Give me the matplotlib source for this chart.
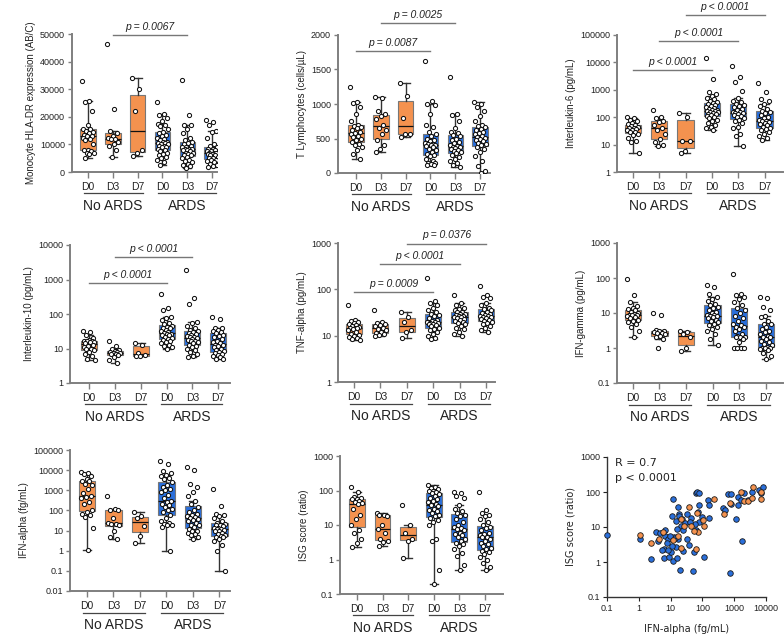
import numpy as np
import matplotlib
matplotlib.use("Agg")
import matplotlib.pyplot as plt
from matplotlib.ticker import FixedLocator, NullLocator

plt.rcParams['font.family'] = ['Liberation Sans', 'DejaVu Sans']

days = ['D0', 'D3', 'D7', 'D0', 'D3', 'D7']
groups = ['No ARDS', 'ARDS']

# --- values (one list per box: NoARDS D0, D3, D7, ARDS D0, D3, D7)
hladr = [
    [32800, 25800, 25500, 22000, 17000, 15500, 15500, 15000, 14500, 14000, 13500, 13000, 13000,
     12500, 12000, 11500, 10000, 8000, 8000, 7500, 7000, 7000, 6500, 5000],
    [46500, 23000, 15000, 14000, 13000, 12500, 12000, 12000, 11000, 10000, 9500, 8000, 5500],
    [34000, 30000, 22000, 8000, 7000, 5800],
    [25300, 21000, 20500, 19500, 18500, 17500, 17000, 16500, 15500, 14500, 14000, 13500, 13000,
     12500, 12000, 11500, 11000, 11000, 10500, 10500, 10000, 10000, 9500, 9500, 9000, 9000, 8500,
     8000, 7500, 7000, 6500, 6000, 5500, 5000, 4500, 3500, 2500],
    [33300, 20500, 17000, 17000, 15500, 14000, 12500, 11500, 11000, 10500, 10000, 9500, 9000, 9000,
     8500, 8500, 8500, 8000, 8000, 7500, 7000, 7000, 6500, 6200, 6000, 5500, 5000, 4500, 4000,
     3500, 3000, 2500, 2000, 1500],
    [19000, 18000, 17000, 15000, 14500, 12500, 10000, 9500, 9000, 8500, 8500, 8000, 7500, 7500,
     7000, 7000, 7000, 6500, 6500, 6000, 6000, 5500, 5000, 5000, 4500, 4500, 4000, 3500, 3000,
     2500, 2000, 1800],
]
tlymph = [
    [1250, 1030, 1010, 950, 850, 750, 700, 680, 670, 650, 620, 600, 580, 560, 540, 520, 500, 480,
     450, 420, 410, 380, 330, 280, 210],
    [1100, 1080, 900, 850, 820, 780, 700, 650, 620, 560, 480, 400, 350, 310],
    [1300, 1120, 790, 570, 560, 520],
    [1620, 1050, 1000, 980, 850, 700, 660, 600, 560, 530, 500, 480, 460, 440, 420, 420, 410, 400,
     390, 370, 350, 330, 300, 280, 260, 240, 200, 170, 150, 140, 130, 120, 110],
    [1390, 850, 840, 750, 650, 600, 580, 550, 530, 500, 480, 450, 430, 400, 390, 380, 370, 360,
     350, 340, 320, 310, 290, 260, 230, 200, 170, 150, 120, 90],
    [1030, 1000, 950, 900, 820, 760, 700, 680, 660, 640, 620, 600, 580, 560, 540, 520, 510, 500,
     480, 460, 440, 420, 400, 380, 350, 300, 250, 180, 100, 30, 5],
]
il6 = [
    [105, 90, 80, 70, 60, 55, 50, 48, 45, 42, 40, 38, 35, 33, 30, 28, 25, 22, 18, 14, 12, 5],
    [180, 100, 90, 70, 65, 50, 40, 35, 25, 16, 12, 10, 9],
    [140, 100, 14, 13, 6, 5],
    [15000, 2500, 800, 700, 600, 500, 450, 400, 350, 330, 300, 280, 260, 240, 220, 200, 190, 180,
     170, 165, 160, 150, 140, 135, 130, 120, 110, 100, 90, 80, 70, 60, 50, 45, 40, 35],
    [7500, 3000, 2000, 900, 500, 400, 350, 300, 270, 250, 230, 200, 180, 160, 150, 145, 140, 130,
     120, 110, 100, 90, 80, 70, 60, 45, 40, 25, 20, 9],
    [1800, 800, 450, 400, 300, 250, 200, 170, 160, 140, 120, 100, 90, 80, 75, 70, 65, 60, 55, 50,
     45, 40, 38, 35, 30, 25, 20, 17, 15],
]
il10 = [
    [33, 30, 25, 20, 18, 17, 16, 16, 15, 15, 14, 13, 12, 11, 10, 9.5, 9, 8, 7, 6, 5, 4.5],
    [17, 12, 10, 9, 8.5, 8, 7.8, 7.5, 7.3, 7, 6.8, 6.5, 5.5, 4.5, 3.8],
    [14.5, 13, 7.5, 6.5, 6, 6],
    [380, 150, 130, 80, 75, 65, 55, 50, 45, 42, 40, 38, 35, 32, 30, 28, 27, 26, 25, 24, 22, 20, 19,
     18, 17, 15, 14, 13, 12, 11, 10],
    [1900, 300, 200, 60, 55, 45, 40, 35, 32, 30, 28, 27, 25, 23, 22, 21, 20, 19, 18, 17, 16, 15, 14,
     13, 12, 11, 10, 9, 8, 7, 6, 5.5],
    [80, 70, 40, 38, 35, 32, 30, 28, 25, 23, 21, 19, 17, 15, 14, 13, 13, 12, 11, 10, 9, 8.5, 8, 7.5,
     7, 6.5, 6, 5.5, 5, 5],
]
tnf = [
    [47, 22, 21, 20, 19, 18, 17, 16, 15.5, 15, 15, 14.5, 14, 13, 12, 11, 10.5, 10, 9.5, 9, 8.5, 8],
    [35, 20, 19, 18, 17, 16, 15, 14, 13, 12, 11.5, 11, 10.5, 10],
    [33, 25, 20, 13, 12, 9],
    [180, 55, 50, 45, 40, 35, 32, 30, 28, 26, 24, 22, 21, 20, 19.5, 19, 18.5, 18, 17.5, 17, 16, 15,
     14, 13, 12, 11, 10, 9, 8.5],
    [75, 50, 45, 40, 38, 35, 33, 32, 30, 29, 28, 27, 26, 25, 25, 24, 23, 22, 21, 20, 19, 18, 16, 15,
     14, 12, 11, 10],
    [120, 75, 70, 65, 50, 45, 40, 37, 35, 33, 31, 30, 28, 27, 26, 25, 25, 24, 23, 22, 21, 20, 19, 18,
     16, 15, 13, 12],
]
ifng = [
    [95, 32, 20, 16, 14, 13, 12, 11, 10, 9.5, 9, 8.5, 8.5, 8, 7.5, 7, 6.5, 6, 5.5, 5, 4, 3, 2],
    [10, 9, 3.2, 3, 3, 2.8, 2.7, 2.6, 2.5, 2.2, 2, 1.8, 1],
    [3, 2.9, 2.5, 2, 1, 0.8],
    [65, 55, 35, 28, 25, 22, 18, 17, 15, 14, 12, 11, 10, 9, 8.5, 8, 8, 7.5, 7, 6.5, 6, 5.5, 5, 4.5,
     4, 3.5, 3, 2.5, 1.8, 1.2],
    [130, 35, 32, 28, 25, 20, 17, 14, 12, 10, 8, 7, 6, 5, 4.5, 4, 4, 3.5, 3, 2.5, 2.2, 2, 2, 2, 1.8,
     1.5, 1, 1, 1, 1],
    [28, 27, 15, 12, 8, 7.5, 6, 5, 4.7, 4, 3.5, 3, 2.8, 2.5, 2.2, 2, 2, 1.8, 1.6, 1.5, 1.3, 1.2, 1.1,
     1, 1, 1, 0.95, 0.9, 0.7, 0.6, 0.5],
]
ifna = [
    [8000, 7500, 6500, 5000, 3500, 3000, 2800, 2000, 1800, 1200, 700, 500, 450, 400, 250, 200, 100,
     80, 70, 60, 45, 13, 1.1],
    [500, 120, 110, 100, 40, 23, 22, 22, 20, 10, 5, 4],
    [80, 50, 40, 16, 5.5, 2.5],
    [30000, 20000, 9000, 7000, 6000, 5000, 4000, 3500, 2500, 1800, 1500, 1200, 1000, 800, 600, 400,
     300, 250, 200, 180, 150, 120, 100, 80, 60, 40, 30, 25, 22, 20, 18, 15, 1],
    [14000, 10000, 2000, 1500, 800, 500, 300, 200, 150, 100, 80, 70, 60, 50, 45, 40, 38, 35, 30, 25,
     20, 18, 15, 12, 10, 9, 8, 7, 6, 5, 4],
    [1200, 170, 70, 60, 50, 40, 30, 25, 22, 20, 18, 16, 14, 13, 12, 12, 11, 10, 9, 8, 7, 6, 5.5, 5,
     5, 4, 3, 2, 1, 0.1],
]
isg = [
    [130, 90, 65, 60, 58, 55, 50, 45, 42, 40, 30, 20, 15, 10, 7, 6, 4, 3, 2.3],
    [22, 20, 20, 18, 10, 7.5, 6, 4, 3.5, 3.3, 2.5],
    [37, 10, 6, 4, 3.5, 1.1],
    [140, 130, 120, 110, 100, 95, 90, 85, 80, 70, 60, 55, 50, 45, 40, 38, 35, 30, 28, 25, 22, 20, 18,
     16, 14, 12, 10, 4, 3.5, 0.5, 0.2],
    [90, 85, 70, 60, 37, 30, 25, 22, 20, 18, 15, 12, 10, 9, 8, 7.5, 7, 6, 5.5, 5, 4.5, 4, 3.5, 3, 2.8,
     2.5, 2, 1.5, 1.3, 0.7, 0.5],
    [90, 28, 22, 20, 18, 15, 12, 10, 9, 8, 7, 6, 5.5, 5, 4.5, 4.5, 4, 3.5, 3, 2.8, 2.5, 2.2, 2, 1.8,
     1.6, 1.4, 1.2, 1, 0.8, 0.6, 0.5],
]

# scatter: IFN-alpha vs ISG score
ards_x = [0.1, 1.07, 2.5, 3.6, 4, 4.8, 6.7, 6, 6.3, 6.9, 8.5, 9, 10.5, 12, 12, 10.8, 13, 14.3, 15.7,
          17, 15, 17.7, 19, 20, 21, 22.4, 24, 25, 32, 32, 38, 45, 50, 53, 62, 62, 70, 80, 75, 78, 78,
          100, 110, 150, 160, 165, 430, 500, 650, 730, 780, 820, 1150, 1300, 1350, 1650, 1800, 2000,
          2700, 3500, 6000, 6900, 7800, 8, 11, 14, 5.5, 7.5, 9.5, 16, 28, 60, 18, 40]
ards_y = [6, 4.4, 1.2, 7, 4, 6.7, 8, 1.3, 2.4, 5.4, 4.6, 1.4, 1.9, 1.05, 62, 21, 5.2, 2.6, 1.3,
          4.6, 15, 38, 24, 0.6, 11, 17, 8, 2.1, 4.6, 24, 3, 18.5, 0.54, 1.9, 8, 92, 102, 92, 27, 14, 42,
          19, 1.4, 59, 18.6, 42, 36, 30, 86, 0.5, 86, 45, 17, 72, 42, 59, 4, 91, 59, 102, 115, 91, 143,
          2.2, 2.8, 5, 2.2, 3.5, 5.5, 9, 13, 12, 20, 14]
nards_x = [1.07, 2.4, 4.4, 5.8, 17.7, 21, 21, 26, 39, 45, 70, 72, 62, 105, 110, 235, 480, 730, 1650,
           2000, 2700, 3500, 3800, 6900, 7000, 12, 55]
nards_y = [6.1, 3.5, 4.5, 7.2, 5.4, 17, 2.5, 10.7, 38, 11, 25, 7.2, 2.4, 15.6, 11, 63, 24, 47, 102,
           55, 56, 66, 137, 62, 99, 4.2, 7.5]

ORANGE = '#F4924F'
BLUE = '#2A6FDB'
SPINE = '#7f7f7f'
TXT = '#222222'

fig = plt.figure(figsize=(7.84, 6.4), dpi=100)
W, H = 784.0, 640.0


def add_ax(x0, x1, ytop, ybot):
    return fig.add_axes([x0 / W, 1 - ybot / H, (x1 - x0) / W, (ybot - ytop) / H])


def box_panel(ax, data, ylabel, ylim, yticks, xlim, log=False, pvals=()):
    if log:
        ax.set_yscale('log')
    colors = [ORANGE] * 3 + [BLUE] * 3
    bp = ax.boxplot(data, positions=range(6), widths=0.62, patch_artist=True, showfliers=False,
                    medianprops=dict(color='#111111', lw=0.9),
                    whiskerprops=dict(color='#333333', lw=1.0),
                    capprops=dict(color='#333333', lw=1.0),
                    boxprops=dict(edgecolor='#777777', lw=0.8))
    for patch, c in zip(bp['boxes'], colors):
        patch.set_facecolor(c)
    for i, vals in enumerate(data):
        n = len(vals)
        offs = ((np.arange(n) * 0.618034) % 1 - 0.5) * 0.46
        ax.plot(i + offs, vals, 'o', ms=3.0, mfc='white', mec='#111111', mew=0.75, zorder=3)
    ax.set_xlim(*xlim)
    ax.set_ylim(*ylim)
    ax.yaxis.set_major_locator(FixedLocator(yticks))
    ax.set_yticklabels(['{:g}'.format(t) for t in yticks])
    ax.yaxis.set_minor_locator(NullLocator())
    ax.set_xticks(range(6))
    ax.set_xticklabels(days, fontsize=7.5, color=TXT)
    ax.tick_params(axis='y', labelsize=6.5, colors=TXT, length=3, width=1, color=SPINE, pad=2)
    ax.tick_params(axis='x', length=4, width=1, color=SPINE, pad=3)
    for s in ('top', 'right'):
        ax.spines[s].set_visible(False)
    for s in ('left', 'bottom'):
        ax.spines[s].set_color(SPINE)
        ax.spines[s].set_linewidth(1.4)
    ax.set_ylabel(ylabel, fontsize=7, color=TXT, labelpad=3)
    tr = ax.get_xaxis_transform()
    ax.plot([-0.15, 2.2], [-0.155, -0.155], transform=tr, color='#444444', lw=0.9, clip_on=False)
    ax.plot([2.8, 5.15], [-0.155, -0.155], transform=tr, color='#444444', lw=0.9, clip_on=False)
    ax.text(1.0, -0.195, groups[0], transform=tr, ha='center', va='top', fontsize=10, color=TXT)
    ax.text(4.0, -0.195, groups[1], transform=tr, ha='center', va='top', fontsize=10, color=TXT)
    for i, j, yf, label in pvals:
        ax.plot([i, j], [yf, yf], transform=tr, color='#777777', lw=1.0, clip_on=False)
        ax.text((i + j) / 2, yf + 0.025, label, transform=tr, ha='center', va='bottom',
                fontsize=7.5, style='italic', color=TXT)


ax1 = add_ax(72, 217, 34, 172)
box_panel(ax1, hladr, 'Monocyte HLA-DR expression (AB/C)', (0, 50000),
          [0, 10000, 20000, 30000, 40000, 50000], (-0.65, 5.2),
          pvals=[(1, 4, 0.993, 'p = 0.0067')])

ax2 = add_ax(338, 490, 35, 173)
box_panel(ax2, tlymph, 'T Lymphocytes (cells/µL)', (0, 2000), [0, 500, 1000, 1500, 2000],
          (-0.73, 5.4), pvals=[(0, 3, 0.884, 'p = 0.0087'), (1, 4, 1.087, 'p = 0.0025')])

ax3 = add_ax(617, 783, 35, 172)
box_panel(ax3, il6, 'Interleukin-6 (pg/mL)', (1, 100000), [1, 10, 100, 1000, 10000, 100000],
          (-0.6, 5.7), log=True,
          pvals=[(0, 3, 0.745, 'p < 0.0001'), (1, 4, 0.956, 'p < 0.0001'),
                 (2, 5, 1.146, 'p < 0.0001')])

ax4 = add_ax(70, 230, 245, 383)
box_panel(ax4, il10, 'Interleukin-10 (pg/mL)', (1, 10000), [1, 10, 100, 1000, 10000],
          (-0.74, 5.46), log=True,
          pvals=[(0, 3, 0.725, 'p < 0.0001'), (1, 4, 0.913, 'p < 0.0001')])

ax5 = add_ax(338, 495, 243, 382)
box_panel(ax5, tnf, 'TNF-alpha (pg/mL)', (1, 1000), [1, 10, 100, 1000], (-0.6, 5.34), log=True,
          pvals=[(0, 3, 0.647, 'p = 0.0009'), (1, 4, 0.849, 'p < 0.0001'),
                 (2, 5, 0.993, 'p = 0.0376')])

ax6 = add_ax(617, 783, 243, 383)
box_panel(ax6, ifng, 'IFN-gamma (pg/mL)', (0.1, 1000), [0.1, 1, 10, 100, 1000], (-0.6, 5.65),
          log=True)

ax7 = add_ax(70, 230, 450, 591)
box_panel(ax7, ifna, 'IFN-alpha (fg/mL)', (0.01, 100000),
          [0.01, 0.1, 1, 10, 100, 1000, 10000, 100000], (-0.64, 5.4), log=True)

ax8 = add_ax(340, 503, 456, 594)
box_panel(ax8, isg, 'ISG score (ratio)', (0.1, 1000), [0.1, 1, 10, 100, 1000], (-0.66, 5.7),
          log=True)

# scatter panel
ax9 = add_ax(607, 766, 457, 597)
ax9.set_xscale('log')
ax9.set_yscale('log')
ax9.scatter(ards_x, ards_y, s=16, c=BLUE, edgecolors='#1a1a1a', linewidths=0.6, zorder=3,
            clip_on=False)
ax9.scatter(nards_x, nards_y, s=16, c=ORANGE, edgecolors='#1a1a1a', linewidths=0.6, zorder=3,
            clip_on=False)
ax9.set_xlim(0.1, 10000)
ax9.set_ylim(0.1, 1000)
xt = [0.1, 1, 10, 100, 1000, 10000]
yt = [0.1, 1, 10, 100, 1000]
ax9.xaxis.set_major_locator(FixedLocator(xt))
ax9.set_xticklabels(['{:g}'.format(t) for t in xt])
ax9.yaxis.set_major_locator(FixedLocator(yt))
ax9.set_yticklabels(['{:g}'.format(t) for t in yt])
ax9.xaxis.set_minor_locator(NullLocator())
ax9.yaxis.set_minor_locator(NullLocator())
for s in ('top', 'right'):
    ax9.spines[s].set_visible(False)
for s in ('left', 'bottom'):
    ax9.spines[s].set_color('#333333')
    ax9.spines[s].set_linewidth(1.0)
ax9.tick_params(labelsize=6.5, colors=TXT, length=3, pad=2)
ax9.set_xlabel('IFN-alpha (fg/mL)', fontsize=7, color=TXT, family='DejaVu Sans', labelpad=8)
ax9.set_ylabel('ISG score (ratio)', fontsize=7, color=TXT, family='DejaVu Sans', labelpad=3)
ax9.text(0.05, 0.96, 'R = 0.7', transform=ax9.transAxes, fontsize=8, va='center',
         family='DejaVu Sans', color=TXT)
ax9.text(0.05, 0.85, 'p < 0.0001', transform=ax9.transAxes, fontsize=8, va='center',
         family='DejaVu Sans', color=TXT)

fig.savefig('out.png', dpi=100)
